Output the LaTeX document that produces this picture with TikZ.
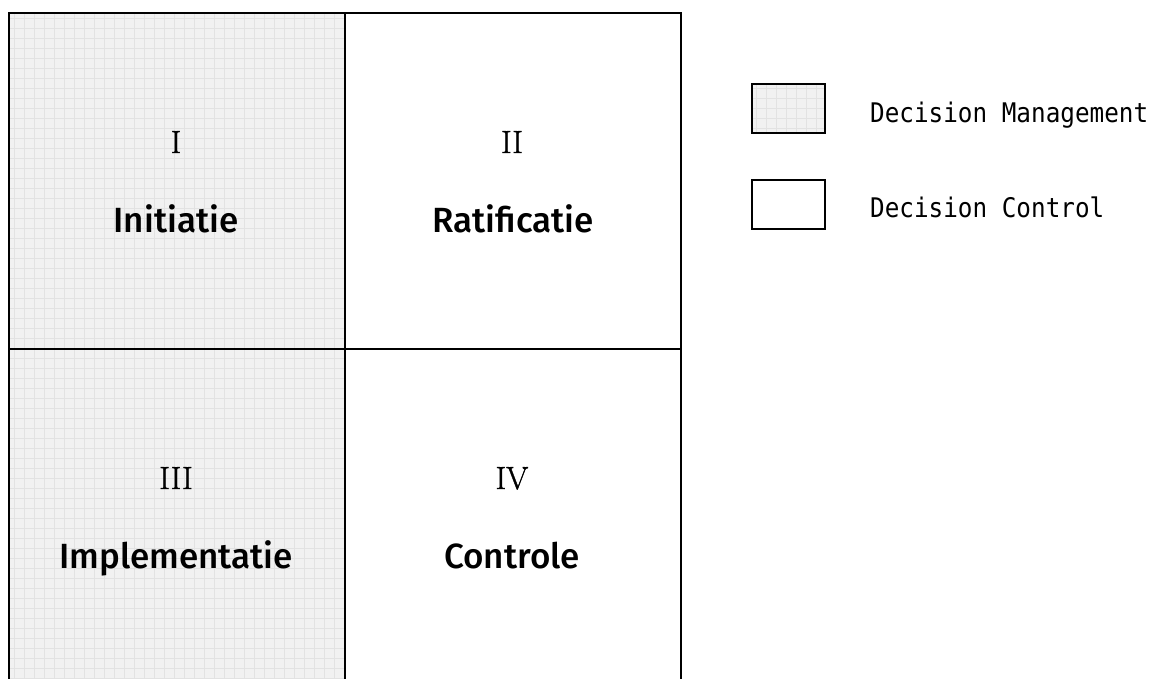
\documentclass[tikz,border=0pt]{standalone}
\usepackage{fontspec}
\setmainfont{Latin Modern Roman}
\newfontfamily\titlefont{Fira Sans Medium}
\newfontfamily\numfont{Latin Modern Roman}[FakeBold=1.2]
\newfontfamily\legendfont{DejaVu Sans Mono}
\definecolor{hatchbg}{RGB}{241,241,241}
\definecolor{hatchln}{RGB}{226,226,226}
\tikzset{
  cell/.style={draw=black, line width=2.4pt, minimum width=336pt, minimum height=336pt, inner sep=0pt, anchor=north west},
  numeral/.style={anchor=base, inner sep=0pt, font=\numfont\fontsize{32}{36}\selectfont},
  title/.style={anchor=base, inner sep=0pt, font=\titlefont\fontsize{35}{40}\selectfont},
  legbox/.style={draw=black, line width=1.8pt, minimum width=73pt, minimum height=49pt, inner sep=0pt, anchor=north west},
  legtext/.style={anchor=base west, inner sep=0pt, font=\legendfont\fontsize{27}{32}\selectfont},
  hatch/.style={hatchln, line width=0.9pt}
}
\begin{document}
\begin{tikzpicture}[x=1pt,y=-1pt]
\useasboundingbox (0,0) rectangle (1164,679);
\clip (0,0) rectangle (1164,679);
\fill[white] (0,0) rectangle (1164,679);
% shaded column background with fine grid
\fill[hatchbg] (8,12) rectangle (344,684);
\begin{scope}
  \clip (8,12) rectangle (344,684);
  \foreach \x in {14,24,...,344} \draw[hatch] (\x,12) -- (\x,684);
  \foreach \y in {18,28,...,684} \draw[hatch] (8,\y) -- (344,\y);
\end{scope}
% cells
\node[cell] (c1) at (8,12) {};
\node[cell] (c2) at (344,12) {};
\node[cell] (c3) at (8,348) {};
\node[cell] (c4) at (344,348) {};
% texts
\node[numeral] (n1) at (176,153) {I};
\node[title]   (t1) at (176,233) {Initiatie};
\node[numeral] (n2) at (512,153) {II};
\node[title]   (t2) at (513,233) {Ratificatie};
\node[numeral] (n3) at (176,489) {III};
\node[title]   (t3) at (176,568) {Implementatie};
\node[numeral] (n4) at (512,489) {IV};
\node[title]   (t4) at (512,568) {Controle};
% legend
\fill[hatchbg] (751,83) rectangle (824,132);
\begin{scope}
  \clip (751,83) rectangle (824,132);
  \foreach \x in {756,766,...,824} \draw[hatch] (\x,83) -- (\x,132);
  \foreach \y in {88,98,...,132} \draw[hatch] (751,\y) -- (824,\y);
\end{scope}
\node[legbox] (l1) at (751,83) {};
\node[legbox] (l2) at (751,179) {};
\node[legtext] (lt1) at (870,123) {\scalebox{0.9}[1]{Decision Management}};
\node[legtext] (lt2) at (870,218) {\scalebox{0.9}[1]{Decision Control}};
\end{tikzpicture}
\end{document}
